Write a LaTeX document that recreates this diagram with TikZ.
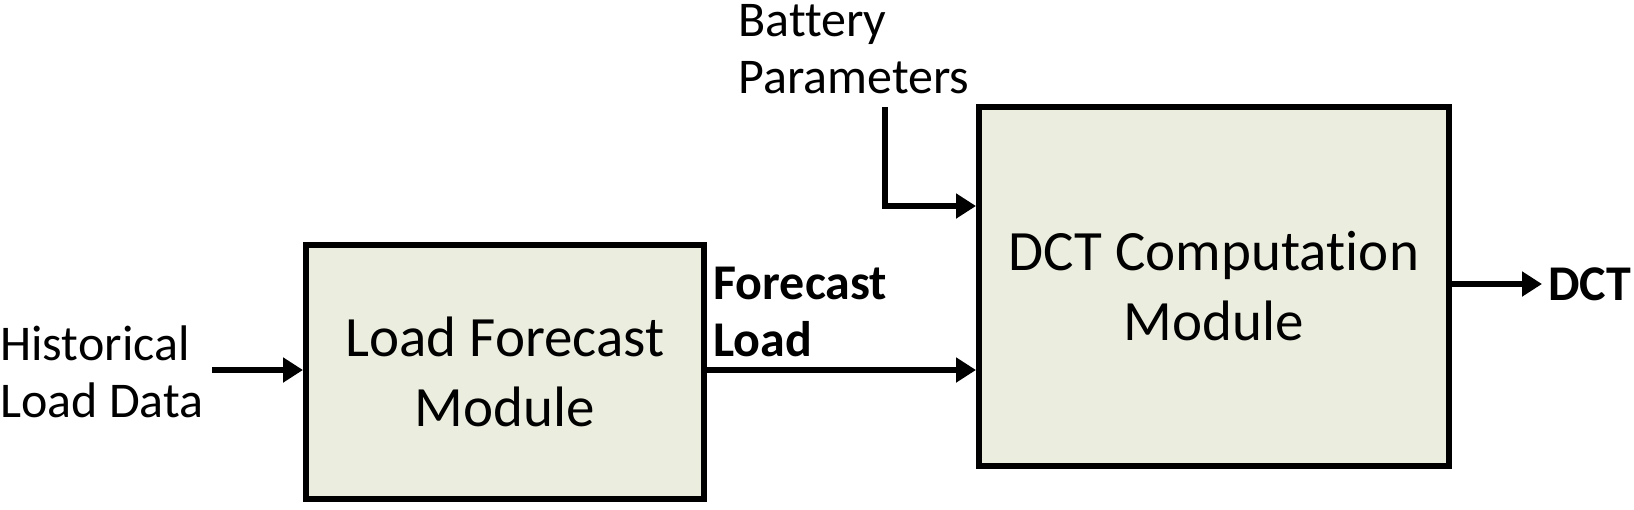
\documentclass[tikz,border=0pt]{standalone}
\usepackage{fontspec}
\setmainfont[Ligatures={NoCommon},RawFeature={-liga;-clig;-dlig;-calt}]{Carlito}
\usetikzlibrary{arrows.meta}
\definecolor{boxfill}{HTML}{EBEEDE}
\begin{document}
\begin{tikzpicture}[x=0.5pt,y=-0.5pt,
  module/.style={draw=black, line width=3pt, fill=boxfill, align=center, inner sep=0pt,
    font=\fontsize{28.5}{35}\selectfont},
  lbl/.style={align=left, inner sep=0pt, anchor=west, font=\fontsize{25}{28.5}\selectfont},
  blbl/.style={lbl, font=\fontsize{25}{28.5}\selectfont\bfseries},
  arr/.style={line width=2.8pt, -{Triangle[length=10pt,width=12pt]}}
]
\useasboundingbox (0,0) rectangle (1634,509);
\node[module, minimum width=199pt, minimum height=127pt] (lf) at (505,372) {Load Forecast\\Module};
\node[module, minimum width=235pt, minimum height=179.5pt] (dct) at (1214,286.5) {DCT Computa\kern0pt tion\\Module};
\node[lbl] (hist) at (0,372) {Historical\\Load Data};
\node[blbl] (fl) at (713,312) {Forecast\\Load};
\node[lbl] (bat) at (738,49) {Battery\\Parameters};
\node[blbl] (dctl) at (1548,284) {DCT};
\coordinate (hin) at (212,370);
\coordinate (bstart) at (885,107);
\coordinate (bh) at (0,206);
\draw[arr] (hin) -- (hin -| lf.west);
\draw[arr] (lf.east |- hin) -- (dct.west |- hin);
\draw[arr, line cap=butt] (bstart) |- (dct.west |- bh);
\draw[arr, shorten >=3pt] (dct.east |- dctl.west) -- (dctl.west);
\end{tikzpicture}
\end{document}
